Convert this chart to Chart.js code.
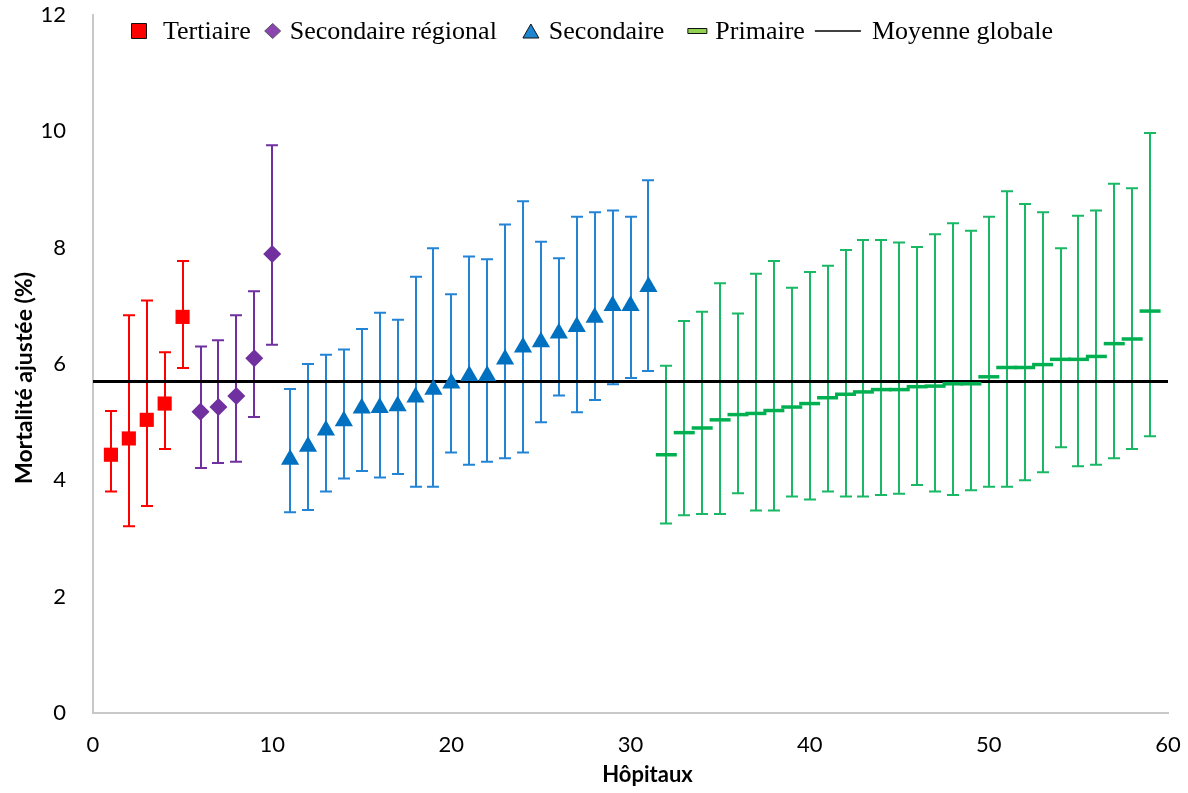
<!DOCTYPE html>
<html>
<head>
<meta charset="utf-8">
<script src="https://cdn.jsdelivr.net/npm/chart.js@4.4.1/dist/chart.umd.min.js"></script>
<style>
  html, body { margin: 0; padding: 0; background: #ffffff; }
  #wrap { width: 1188px; height: 793px; }
</style>
</head>
<body>
<div id="wrap"><canvas id="chart" width="1188" height="793"></canvas></div>
<script>
// Adjusted mortality (%) per hospital, with lower / upper confidence limits
const tertiaireHopitaux = [1, 2, 3, 4, 5];
const tertiaireMortalite = [4.44, 4.72, 5.04, 5.32, 6.81];
const tertiaireBas = [3.81, 3.21, 3.56, 4.54, 5.93];
const tertiaireHaut = [5.19, 6.84, 7.09, 6.20, 7.77];

const secRegHopitaux = [6, 7, 8, 9, 10];
const secRegMortalite = [5.18, 5.26, 5.45, 6.10, 7.89];
const secRegBas = [4.21, 4.30, 4.32, 5.09, 6.33];
const secRegHaut = [6.30, 6.41, 6.84, 7.25, 9.76];

const secondaireHopitaux = [11, 12, 13, 14, 15, 16, 17, 18, 19, 20, 21, 22, 23, 24, 25, 26, 27, 28, 29, 30, 31];
const secondaireMortalite = [4.36, 4.58, 4.86, 5.02, 5.24, 5.25, 5.28, 5.43, 5.56, 5.67, 5.80, 5.80, 6.08, 6.29, 6.38, 6.53, 6.64, 6.80, 7.00, 7.00, 7.33];
const secondaireBas = [3.45, 3.49, 3.81, 4.03, 4.16, 4.05, 4.11, 3.89, 3.89, 4.48, 4.27, 4.32, 4.38, 4.48, 5.00, 5.46, 5.17, 5.38, 5.65, 5.76, 5.88];
const secondaireHaut = [5.57, 6.00, 6.16, 6.25, 6.60, 6.88, 6.76, 7.50, 7.99, 7.20, 7.85, 7.80, 8.40, 8.80, 8.10, 7.82, 8.53, 8.61, 8.64, 8.53, 9.16];

const primaireHopitaux = [32, 33, 34, 35, 36, 37, 38, 39, 40, 41, 42, 43, 44, 45, 46, 47, 48, 49, 50, 51, 52, 53, 54, 55, 56, 57, 58, 59];
const primaireMortalite = [4.44, 4.82, 4.90, 5.04, 5.13, 5.15, 5.20, 5.26, 5.32, 5.42, 5.48, 5.52, 5.56, 5.56, 5.61, 5.62, 5.66, 5.66, 5.78, 5.94, 5.94, 5.99, 6.08, 6.08, 6.13, 6.35, 6.43, 6.91];
const primaireBas = [3.26, 3.40, 3.42, 3.42, 3.78, 3.48, 3.48, 3.72, 3.67, 3.81, 3.72, 3.72, 3.75, 3.77, 3.92, 3.81, 3.75, 3.83, 3.89, 3.89, 4.00, 4.14, 4.57, 4.24, 4.27, 4.38, 4.54, 4.76];
const primaireHaut = [5.97, 6.74, 6.90, 7.39, 6.87, 7.55, 7.77, 7.31, 7.58, 7.69, 7.96, 8.13, 8.13, 8.09, 8.01, 8.23, 8.42, 8.29, 8.53, 8.97, 8.75, 8.61, 7.99, 8.55, 8.64, 9.10, 9.02, 9.97];

const moyenneGlobale = 5.70;
const moyenneEtendue = [0, 60];

const xTicks = [0, 10, 20, 30, 40, 50, 60];
const yTicks = [0, 2, 4, 6, 8, 10, 12];

const titreX = 'Hôpitaux';
const titreY = 'Mortalité ajustée (%)';

const toPoints = (xs, ys) => xs.map((x, i) => ({ x: x, y: ys[i] }));

// Vertical confidence intervals with caps, drawn under the markers
const errorBarPlugin = {
  id: 'errorBars',
  beforeDatasetsDraw(chart) {
    const { ctx, scales } = chart;
    const xs = scales.x, ys = scales.y;
    chart.data.datasets.forEach(ds => {
      if (!ds.errLow) return;
      ctx.save();
      ctx.strokeStyle = ds.errColor;
      ctx.lineWidth = 2;
      const cap = 6;
      ds.data.forEach((p, j) => {
        const px = Math.round(xs.getPixelForValue(p.x));
        const yl = ys.getPixelForValue(ds.errLow[j]);
        const yh = ys.getPixelForValue(ds.errHigh[j]);
        ctx.beginPath();
        ctx.moveTo(px, yl); ctx.lineTo(px, yh);
        ctx.moveTo(px - cap, yl); ctx.lineTo(px + cap, yl);
        ctx.moveTo(px - cap, yh); ctx.lineTo(px + cap, yh);
        ctx.stroke();
      });
      ctx.restore();
    });
  }
};

// Axis titles, placed slightly off the plot centre like the original layout
const axisTitlePlugin = {
  id: 'axisTitles',
  afterDraw(chart) {
    const { ctx, chartArea } = chart;
    ctx.save();
    ctx.fillStyle = '#000';
    ctx.textAlign = 'center';
    ctx.textBaseline = 'middle';
    ctx.font = 'bold 22px Lato, "Open Sans", sans-serif';
    ctx.fillText(titreX, (chartArea.left + chartArea.right) / 2 + 17, 775);
    ctx.translate(25, (chartArea.top + chartArea.bottom) / 2 + 14);
    ctx.rotate(-Math.PI / 2);
    ctx.font = 'bold 23px Lato, "Open Sans", sans-serif';
    ctx.fillText(titreY, 0, 0);
    ctx.restore();
  }
};

// Legend row in a serif face, laid over the top of the plot
const legendPlugin = {
  id: 'serifLegend',
  afterDraw(chart) {
    const ctx = chart.ctx;
    ctx.save();
    ctx.font = '26px "Liberation Serif", "Times New Roman", serif';
    ctx.textBaseline = 'middle';
    const cy = 31;
    let x = 131;
    chart.data.datasets.forEach(ds => {
      const sym = ds.legendSymbol;
      const hw = sym.halfWidth;
      const cx = x + hw;
      ctx.lineWidth = 1;
      ctx.strokeStyle = '#111';
      ctx.fillStyle = sym.fill;
      ctx.beginPath();
      if (sym.kind === 'square') {
        ctx.rect(cx - 7.5, cy - 7.5, 15, 15);
        ctx.fill(); ctx.stroke();
      } else if (sym.kind === 'diamond') {
        ctx.moveTo(cx, cy - 7.5); ctx.lineTo(cx + 8, cy); ctx.lineTo(cx, cy + 7.5); ctx.lineTo(cx - 8, cy); ctx.closePath();
        ctx.fill(); ctx.strokeStyle = '#555'; ctx.stroke();
      } else if (sym.kind === 'triangle') {
        ctx.moveTo(cx, cy - 7); ctx.lineTo(cx + 8, cy + 7); ctx.lineTo(cx - 8, cy + 7); ctx.closePath();
        ctx.fill(); ctx.stroke();
      } else if (sym.kind === 'dash') {
        ctx.rect(cx - 9.5, cy - 2.5, 19, 5);
        ctx.fill(); ctx.stroke();
      } else if (sym.kind === 'line') {
        ctx.strokeStyle = '#000';
        ctx.lineWidth = 1.5;
        ctx.moveTo(cx - hw, cy); ctx.lineTo(cx + hw, cy);
        ctx.stroke();
      }
      x += 2 * hw + sym.textGap;
      ctx.fillStyle = '#000';
      ctx.fillText(ds.label, x, cy + 1);
      x += ctx.measureText(ds.label).width + sym.itemGap;
    });
    ctx.restore();
  }
};

const tickFont = { family: 'Lato, "Open Sans", sans-serif', size: 22 };

new Chart(document.getElementById('chart'), {
  type: 'scatter',
  data: {
    datasets: [
      {
        label: 'Tertiaire',
        data: toPoints(tertiaireHopitaux, tertiaireMortalite),
        errLow: tertiaireBas, errHigh: tertiaireHaut, errColor: '#FF0000',
        pointStyle: 'rect', pointRadius: 10, pointHoverRadius: 10,
        backgroundColor: '#FF0000', borderColor: '#FF0000', borderWidth: 0,
        legendSymbol: { kind: 'square', fill: '#FF0000', halfWidth: 8, textGap: 16, itemGap: 14 },
        order: 1
      },
      {
        label: 'Secondaire régional',
        data: toPoints(secRegHopitaux, secRegMortalite),
        errLow: secRegBas, errHigh: secRegHaut, errColor: '#7030A0',
        pointStyle: 'rectRot', pointRadius: 9, pointHoverRadius: 9,
        backgroundColor: '#7030A0', borderColor: '#7030A0', borderWidth: 0,
        legendSymbol: { kind: 'diamond', fill: '#8A45AE', halfWidth: 8, textGap: 9, itemGap: 26 },
        order: 1
      },
      {
        label: 'Secondaire',
        data: toPoints(secondaireHopitaux, secondaireMortalite),
        errLow: secondaireBas, errHigh: secondaireHaut, errColor: '#2384D6',
        pointStyle: 'triangle', pointRadius: 10.5, pointHoverRadius: 10.5,
        backgroundColor: '#0070C0', borderColor: '#0070C0', borderWidth: 0,
        legendSymbol: { kind: 'triangle', fill: '#1E86D0', halfWidth: 8, textGap: 10, itemGap: 23 },
        order: 1
      },
      {
        label: 'Primaire',
        data: toPoints(primaireHopitaux, primaireMortalite),
        errLow: primaireBas, errHigh: primaireHaut, errColor: '#19B865',
        pointStyle: 'line', pointRadius: 10.5, pointHoverRadius: 10.5,
        backgroundColor: '#00B050', borderColor: '#00B050', borderWidth: 3.5,
        legendSymbol: { kind: 'dash', fill: '#92D050', halfWidth: 10, textGap: 8, itemGap: 10 },
        order: 1
      },
      {
        label: 'Moyenne globale',
        type: 'line',
        data: moyenneEtendue.map(x => ({ x: x, y: moyenneGlobale })),
        borderColor: '#000000', borderWidth: 3,
        pointRadius: 0, pointHoverRadius: 0, fill: false,
        legendSymbol: { kind: 'line', fill: '#000', halfWidth: 23, textGap: 11, itemGap: 0 },
        order: 5
      }
    ]
  },
  options: {
    responsive: false,
    animation: false,
    devicePixelRatio: 1,
    layout: { padding: { top: 15, right: 20, left: 0, bottom: 0 } },
    plugins: { legend: { display: false }, tooltip: { enabled: false } },
    scales: {
      x: {
        type: 'linear', min: 0, max: 60,
        afterBuildTicks: s => { s.ticks = xTicks.map(v => ({ value: v })); },
        afterFit: s => { s.height = 80; s.paddingLeft = 0; s.paddingRight = 0; },
        grid: { display: false, drawTicks: false },
        border: { display: true, color: '#C8C8C8', width: 2 },
        ticks: { font: tickFont, color: '#000', padding: 19, maxRotation: 0 },
        title: { display: false }
      },
      y: {
        type: 'linear', min: 0, max: 12,
        afterBuildTicks: s => { s.ticks = yTicks.map(v => ({ value: v })); },
        afterFit: s => { s.width = 93; s.paddingTop = 0; s.paddingBottom = 0; },
        grid: { display: false, drawTicks: false },
        border: { display: true, color: '#C8C8C8', width: 2 },
        ticks: { font: tickFont, color: '#000', padding: 27 },
        title: { display: false }
      }
    }
  },
  plugins: [errorBarPlugin, axisTitlePlugin, legendPlugin]
});
</script>
</body>
</html>
